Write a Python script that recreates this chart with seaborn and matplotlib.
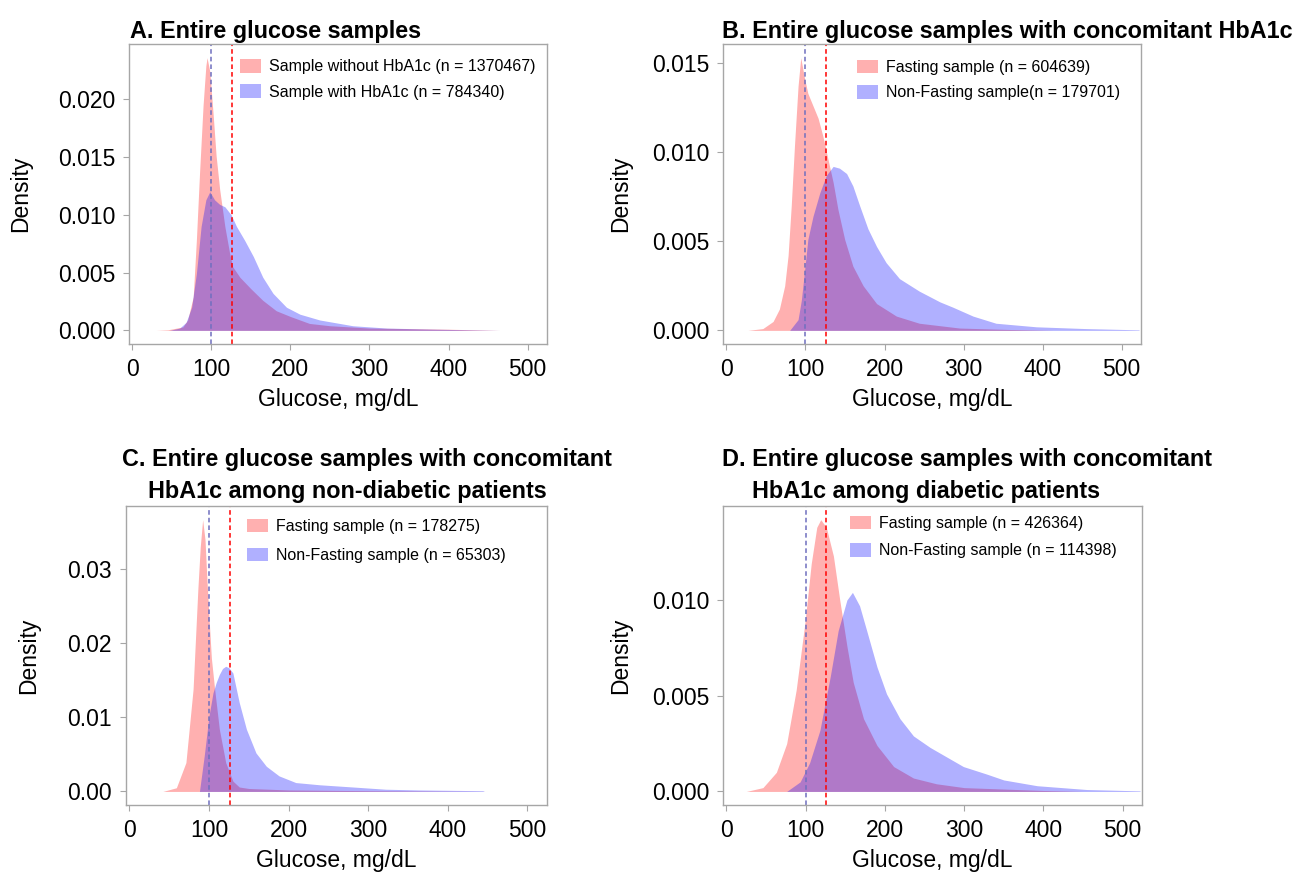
import numpy as np
import matplotlib
matplotlib.use('Agg')
import matplotlib.pyplot as plt
import seaborn as sns
from matplotlib.patches import Patch
from matplotlib.ticker import FormatStrFormatter

# --- 1. Global plotting settings ---
sns.set_style('white')
plt.rcParams['font.family'] = ['Liberation Sans', 'DejaVu Sans']
plt.rcParams['axes.unicode_minus'] = False
# seaborn greys the text; the reference uses plain black
plt.rcParams['text.color'] = 'black'
plt.rcParams['axes.labelcolor'] = 'black'
plt.rcParams['xtick.labelcolor'] = 'black'
plt.rcParams['ytick.labelcolor'] = 'black'

# --- 2. Density curves (glucose mg/dL, density) ---
# A. Entire glucose samples
a_red_x = [30, 45, 64, 70, 77, 81, 85, 89.5, 93, 94.5, 98, 102, 106, 110.5, 117, 123, 127,
           136, 150, 165, 182, 200, 224, 250, 300, 400, 465]
a_red_y = [0, 0.00005, 0.0003, 0.0009, 0.0029, 0.0078, 0.0136, 0.0195, 0.0229, 0.0236, 0.0224,
           0.0189, 0.0151, 0.0122, 0.0090, 0.0067, 0.0055, 0.0046, 0.0036, 0.0026, 0.0017,
           0.0012, 0.0006, 0.0004, 0.0002, 0.0001, 0]
a_blue_x = [47, 60, 68, 75, 81, 87, 93, 98, 104, 110.5, 117, 125, 131.7, 142, 153, 165, 178,
            195, 212, 237, 279, 322, 385, 465]
a_blue_y = [0, 0.0002, 0.0007, 0.0020, 0.0049, 0.0090, 0.0113, 0.0120, 0.0113, 0.0109, 0.0107,
            0.0100, 0.0090, 0.0078, 0.0064, 0.0046, 0.0032, 0.0020, 0.0014, 0.0009, 0.0004,
            0.0002, 0.0001, 0]

# B. Entire glucose samples with concomitant HbA1c
b_red_x = [27, 46, 59, 67, 73.7, 78, 82, 86, 90.6, 94, 99, 103, 109.5, 116, 122, 128.5, 135,
           141, 149.6, 160, 173, 190, 215, 244, 295, 358, 413]
b_red_y = [0, 0.0001, 0.0005, 0.0012, 0.0025, 0.0042, 0.0070, 0.0103, 0.0137, 0.0153, 0.0141,
           0.0133, 0.0126, 0.0119, 0.0109, 0.0096, 0.0083, 0.0068, 0.0051, 0.0036, 0.0025,
           0.0015, 0.0008, 0.0004, 0.00013, 0.00005, 0]
b_blue_x = [80, 90.6, 94.8, 99, 103, 109.5, 118, 126.4, 135, 143, 152, 160, 168.5, 179, 190,
            202, 219, 244, 270, 286.5, 312, 341, 392, 455, 522]
b_blue_y = [0, 0.0006, 0.0017, 0.0034, 0.0051, 0.0064, 0.0077, 0.0087, 0.0092, 0.0091, 0.0088,
            0.0081, 0.0070, 0.0057, 0.0047, 0.0038, 0.0029, 0.0022, 0.0016, 0.0013, 0.0008,
            0.0004, 0.0002, 0.0001, 0.00003]

# C. ... among non-diabetic patients
c_red_x = [42, 59, 71, 80, 86, 89, 92, 95, 97, 100, 103, 107, 113, 121, 130, 138, 150, 200,
           300, 400, 450]
c_red_y = [0, 0.0005, 0.0039, 0.0138, 0.0273, 0.0330, 0.0367, 0.0340, 0.0295, 0.0235, 0.0180,
           0.0139, 0.0084, 0.0039, 0.0014, 0.0006, 0.0004, 0.0002, 0.0001, 0.00003, 0]
c_blue_x = [88, 94, 100, 105, 109, 113, 117, 121, 125, 130, 138, 147, 159, 172, 188, 209, 239,
            281, 322, 364, 444, 446]
c_blue_y = [0, 0.0048, 0.0102, 0.0133, 0.0147, 0.0158, 0.0166, 0.0169, 0.0167, 0.0160, 0.0120,
            0.0084, 0.0052, 0.0034, 0.0021, 0.0012, 0.0009, 0.0006, 0.0003, 0.0002, 0.0001, 0]

# D. ... among diabetic patients
d_red_x = [25, 46, 63, 76, 88, 99, 107, 114, 119, 126, 135, 143, 152, 160, 173, 190, 211, 236,
           265, 300, 400, 450]
d_red_y = [0, 0.0002, 0.0010, 0.0025, 0.0053, 0.0088, 0.0119, 0.0138, 0.0142, 0.0138, 0.0123,
           0.0100, 0.0076, 0.0057, 0.0038, 0.0024, 0.0013, 0.0007, 0.0004, 0.0002, 0.00005, 0]
d_blue_x = [76, 93, 105, 118, 131, 141, 152, 159, 168, 177, 190, 202, 219, 236, 257, 278, 299,
            329, 350, 392, 455, 522]
d_blue_y = [0, 0.0005, 0.0015, 0.0032, 0.0060, 0.0084, 0.0100, 0.0104, 0.0097, 0.0084, 0.0065,
            0.0051, 0.0038, 0.0029, 0.0023, 0.0018, 0.0013, 0.0009, 0.0006, 0.0003, 0.0001,
            0.00003]

# Legend labels
a_labels = ['Sample without HbA1c (n = 1370467)', 'Sample with HbA1c (n = 784340)']
b_labels = ['Fasting sample (n = 604639)', 'Non-Fasting sample(n = 179701)']
c_labels = ['Fasting sample (n = 178275)', 'Non-Fasting sample (n = 65303)']
d_labels = ['Fasting sample (n = 426364)', 'Non-Fasting sample (n = 114398)']

# Reference glucose cut-offs (dashed lines)
cutoff_blue = 100
cutoff_red = 126

# --- 3. Styling constants ---
RED = '#ff0000'
BLUE = '#0000ff'
ALPHA = 0.31
GREY = '#a6a6a6'

fig = plt.figure(figsize=(12.96, 8.74), dpi=100)

# axes rectangles (figure fractions)
rects = {
    'A': [0.0995, 0.6064, 0.3225, 0.3432],
    'B': [0.5579, 0.6064, 0.3225, 0.3432],
    'C': [0.0972, 0.0789, 0.3248, 0.3421],
    'D': [0.5579, 0.0789, 0.3233, 0.3421],
}

panels = [
    ('A', a_red_x, a_red_y, a_blue_x, a_blue_y, a_labels, [0, 0.005, 0.01, 0.015, 0.02], '%.3f',
     (0.266, 0.950), 0.62, -0.232),
    ('B', b_red_x, b_red_y, b_blue_x, b_blue_y, b_labels, [0, 0.005, 0.01, 0.015], '%.3f',
     (0.320, 0.948), 0.62, -0.218),
    ('C', c_red_x, c_red_y, c_blue_x, c_blue_y, c_labels, [0, 0.01, 0.02, 0.03], '%.2f',
     (0.288, 0.958), 0.85, -0.204),
    ('D', d_red_x, d_red_y, d_blue_x, d_blue_y, d_labels, [0, 0.005, 0.01], '%.3f',
     (0.303, 0.968), 0.75, -0.218),
]


def draw_panel(ax, rx, ry, bx, by, labels, yticks, yfmt, leg_anchor, leg_space, ylab_x):
    ax.fill_between(rx, ry, 0, color=RED, alpha=ALPHA, linewidth=0)
    ax.fill_between(bx, by, 0, color=BLUE, alpha=ALPHA, linewidth=0)
    ax.axvline(cutoff_blue, color='#6f6fbf', linestyle=(0, (3, 2)), linewidth=1.1)
    ax.axvline(cutoff_red, color=RED, linestyle=(0, (3, 2)), linewidth=1.1)

    ymax = max(max(ry), max(by))
    pad = 0.05 * ymax
    ax.set_ylim(-pad, ymax + pad)
    ax.set_xlim(-4.3, 524.5)
    ax.set_xticks([0, 100, 200, 300, 400, 500])
    ax.set_yticks(yticks)
    ax.yaxis.set_major_formatter(FormatStrFormatter(yfmt))

    for sp in ax.spines.values():
        sp.set_color(GREY)
        sp.set_linewidth(1.0)
    ax.tick_params(axis='both', direction='out', length=4, width=0.8, color=GREY,
                   labelsize=16.5, pad=6, left=True, bottom=True)

    ax.set_xlabel('Glucose, mg/dL', fontsize=16.5, labelpad=5)
    ax.set_ylabel('Density', fontsize=16.5)
    ax.yaxis.set_label_coords(ylab_x, 0.5)

    handles = [Patch(facecolor=RED, alpha=ALPHA, edgecolor='none'),
               Patch(facecolor=BLUE, alpha=ALPHA, edgecolor='none')]
    ax.legend(handles, labels, loc='upper left', bbox_to_anchor=leg_anchor, frameon=False,
              fontsize=11.5, handlelength=1.3, handleheight=0.95, handletextpad=0.5,
              labelspacing=leg_space, borderpad=0, borderaxespad=0)


for key, rx, ry, bx, by, labels, yticks, yfmt, anchor, space, ylx in panels:
    ax = fig.add_axes(rects[key])
    draw_panel(ax, rx, ry, bx, by, labels, yticks, yfmt, anchor, space, ylx)

# --- 4. Panel titles ---
title_kw = dict(fontsize=16.8, fontweight='bold', ha='left', va='baseline')
fig.text(130 / 1296, 1 - 38 / 874, 'A. Entire glucose samples', **title_kw)
fig.text(722 / 1296, 1 - 38 / 874, 'B. Entire glucose samples with concomitant HbA1c', **title_kw)
fig.text(122 / 1296, 1 - 466 / 874, 'C. Entire glucose samples with concomitant', **title_kw)
fig.text(148 / 1296, 1 - 498 / 874, 'HbA1c among non-diabetic patients', **title_kw)
fig.text(722 / 1296, 1 - 466 / 874, 'D. Entire glucose samples with concomitant', **title_kw)
fig.text(752 / 1296, 1 - 498 / 874, 'HbA1c among diabetic patients', **title_kw)

plt.savefig('out.png', dpi=100)
